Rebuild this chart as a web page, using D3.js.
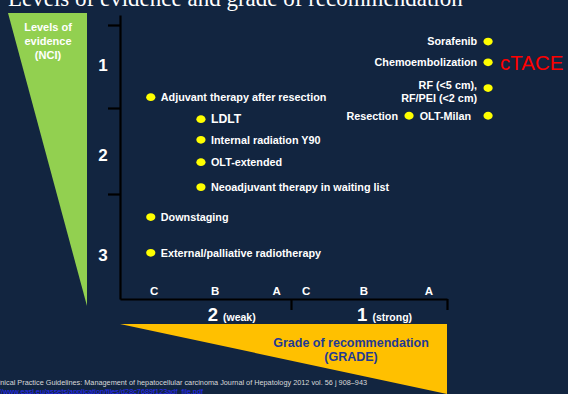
<!DOCTYPE html>
<html>
<head>
<meta charset="utf-8">
<script src="https://cdn.jsdelivr.net/npm/d3@7"></script>
<style>
  html, body { margin: 0; padding: 0; background: #122540; overflow: hidden; }
  svg { display: block; }
  text { font-family: "Liberation Sans", Arial, sans-serif; font-weight: bold; }
</style>
</head>
<body>
<div id="chart"></div>
<script>
// levels of evidence (NCI) and grade of recommendation (GRADE)
var levels = ["1", "2", "3"];
var levelBreaks = [1, 2, 3];
var levelLabelPos = [1.48, 2.55, 3.58];

var gradeLetters = ["C", "B", "A", "C", "B", "A"];
var gradeLetterPos = [0.6, 1.67, 2.75, 3.29, 4.4, 5.65];
var gradeGroups = [["2", "(weak)"], ["1", "(strong)"]];
var gradeGroupPos = [1.96, 4.8];
var gradeBreaks = [3, 6];

// treatments: grade position, evidence position, which side the label sits
var treatments = ["Sorafenib", "Chemoembolization", "RF (<5 cm),|RF/PEI (<2 cm)", "OLT-Milan\u00a0\u00a0", "Resection",
  "Adjuvant therapy after resection", "LDLT", "Internal radiation Y90", "OLT-extended",
  "Neoadjuvant therapy in waiting list", "Downstaging", "External/palliative radiotherapy"];
var treatGrade = [6.79, 6.79, 6.79, 6.79, 5.27, 0.54, 1.42, 1.42, 1.42, 1.42, 0.54, 0.54];
var treatLevel = [1.2, 1.45, 1.76, 2.09, 2.09, 1.87, 2.13, 2.37, 2.63, 2.92, 3.22, 3.56];
var treatSide = ["left", "left", "left", "left", "left", "right", "right", "right", "right", "right", "right", "right"];

var width = 568, height = 394;

var svg = d3.select("#chart")
  .append("svg")
  .attr("width", width)
  .attr("height", height);

svg.append("rect")
  .attr("width", width)
  .attr("height", height)
  .attr("fill", "#122540");

// title, cut off at the top like the slide
svg.append("text")
  .attr("x", 8)
  .attr("y", 6)
  .attr("fill", "#ffffff")
  .style("font-family", "'Liberation Serif', 'Times New Roman', serif")
  .style("font-weight", "normal")
  .style("font-size", "23px")
  .text("Levels of evidence and grade of recommendation");

var y = d3.scaleLinear()
  .domain([0.9, 1, 2, 3, 4])
  .range([15, 25, 108, 194, 299]);

var x = d3.scaleLinear()
  .domain([0, 3, 6])
  .range([120, 291, 447]);

// green evidence wedge
svg.append("path")
  .attr("d", "M8,13L87,13L87,306Z")
  .attr("fill", "#92d050");

svg.append("text")
  .attr("x", 48)
  .attr("y", 31)
  .attr("text-anchor", "middle")
  .attr("fill", "#ffffff")
  .style("font-size", "11px")
  .selectAll("tspan")
  .data(["Levels of", "evidence", "(NCI)"])
  .enter()
  .append("tspan")
  .attr("x", 48)
  .attr("dy", (d, i) => i ? 14 : 0)
  .text(d => d);

// yellow grade wedge
svg.append("path")
  .attr("d", "M" + x(0) + ",324L" + x(6) + ",324L" + x(6) + ",394Z")
  .attr("fill", "#ffc000");

svg.append("text")
  .attr("x", 351)
  .attr("y", 347)
  .attr("text-anchor", "middle")
  .attr("fill", "#1f3a93")
  .style("font-size", "12.5px")
  .selectAll("tspan")
  .data(["Grade of recommendation", "(GRADE)"])
  .enter()
  .append("tspan")
  .attr("x", 351)
  .attr("dy", (d, i) => i ? 14 : 0)
  .text(d => d);

// axes
var yAxis = svg.append("g")
  .attr("transform", "translate(" + x(0) + ",0)")
  .call(d3.axisLeft(y).tickValues(levelBreaks).tickSize(12).tickSizeOuter(0).tickFormat(""));

var xAxis = svg.append("g")
  .attr("transform", "translate(0," + y(4) + ")")
  .call(d3.axisBottom(x).tickValues(gradeBreaks).tickSize(11).tickSizeOuter(0).tickFormat(""));

svg.selectAll(".domain, .tick line")
  .attr("stroke", "#000000")
  .attr("stroke-width", 2.2);

// level numbers
svg.append("g")
  .selectAll("text")
  .data(levels)
  .enter()
  .append("text")
  .attr("x", 103)
  .attr("y", (d, i) => y(levelLabelPos[i]))
  .attr("dy", "0.35em")
  .attr("text-anchor", "middle")
  .attr("fill", "#ffffff")
  .style("font-size", "17px")
  .text(d => d);

// grade letters
svg.append("g")
  .selectAll("text")
  .data(gradeLetters)
  .enter()
  .append("text")
  .attr("x", (d, i) => x(gradeLetterPos[i]))
  .attr("y", 295)
  .attr("text-anchor", "middle")
  .attr("fill", "#ffffff")
  .style("font-size", "11.5px")
  .text(d => d);

var groupText = svg.append("g")
  .selectAll("text")
  .data(gradeGroups)
  .enter()
  .append("text")
  .attr("x", (d, i) => x(gradeGroupPos[i]))
  .attr("y", 321)
  .attr("text-anchor", "middle")
  .attr("fill", "#ffffff");
groupText.append("tspan")
  .style("font-size", "18.5px")
  .text(d => d[0]);
groupText.append("tspan")
  .attr("dx", 5)
  .style("font-size", "10.5px")
  .text(d => d[1]);

// treatment points
var items = svg.append("g")
  .selectAll("g")
  .data(treatments)
  .enter()
  .append("g")
  .attr("transform", (d, i) => "translate(" + x(treatGrade[i]) + "," + y(treatLevel[i]) + ")");

items.append("ellipse")
  .attr("rx", 4.6)
  .attr("ry", 3.9)
  .attr("fill", "#ffff00");

items.append("text")
  .attr("x", (d, i) => treatSide[i] == "left" ? -11 : 10)
  .attr("text-anchor", (d, i) => treatSide[i] == "left" ? "end" : "start")
  .attr("fill", "#ffffff")
  .style("font-size", d => d == "LDLT" ? "12.2px" : "10.8px")
  .each(function(d) {
    var lines = d.split("|");
    d3.select(this).selectAll("tspan")
      .data(lines)
      .enter()
      .append("tspan")
      .attr("x", d3.select(this).attr("x"))
      .attr("y", (l, j) => lines.length > 1 ? (j ? 10 : -3) : 0)
      .attr("dy", "0.35em")
      .text(l => l);
  });

// cTACE note
svg.append("text")
  .attr("x", 500)
  .attr("y", y(1.45))
  .attr("dy", "0.36em")
  .attr("fill", "#ff0000")
  .style("font-weight", "normal")
  .style("font-size", "20.5px")
  .text("cTACE");

// source lines at the bottom
svg.append("text")
  .attr("x", 367)
  .attr("y", 385)
  .attr("text-anchor", "end")
  .attr("fill", "#d9d9d9")
  .style("font-weight", "normal")
  .style("font-size", "7.3px")
  .text("EASL\u2013EORTC Clinical Practice Guidelines: Management of hepatocellular carcinoma Journal of Hepatology 2012 vol. 56 j 908\u2013943");

svg.append("text")
  .attr("x", 203)
  .attr("y", 394)
  .attr("text-anchor", "end")
  .attr("fill", "#2a2aff")
  .style("font-weight", "normal")
  .style("font-size", "7.3px")
  .style("text-decoration", "underline")
  .text("http://www.easl.eu/assets/application/files/d28c7689f123adf_file.pdf");
</script>
</body>
</html>
